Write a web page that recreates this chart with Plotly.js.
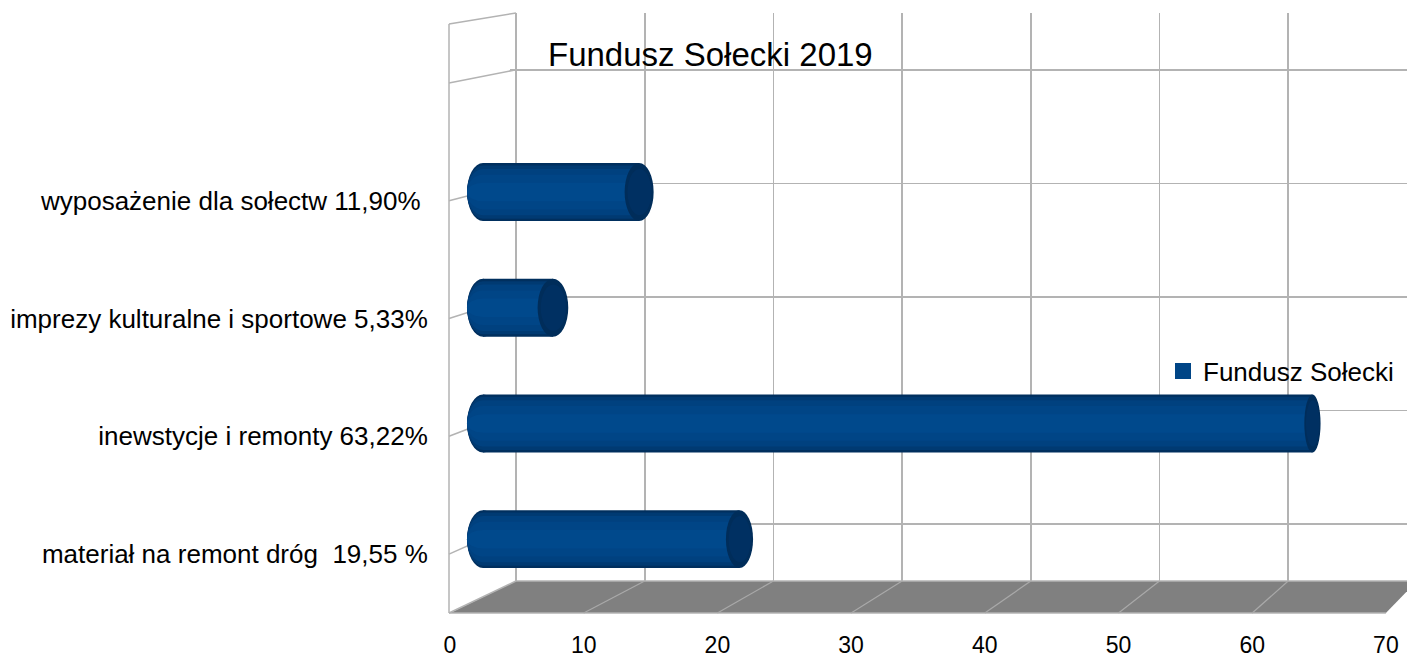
<!DOCTYPE html>
<html>
<head>
<meta charset="utf-8">
<script src="https://cdn.plot.ly/plotly-3.0.1.min.js"></script>
<style>html,body{margin:0;padding:0;background:#fff;}#chart{width:1407px;height:660px;}</style>
</head>
<body>
<div id="chart"></div>
<script>
// ---- data ----
const categories = [
  'materiał na remont dróg\u00a0 19,55 %',
  'inewstycje i remonty 63,22%',
  'imprezy kulturalne i sportowe 5,33%',
  'wyposażenie dla sołectw 11,90%\u00a0'
];
const values = [19.55, 63.22, 5.33, 11.90];
const seriesName = 'Fundusz Sołecki';
const chartTitle = 'Fundusz Sołecki 2019';
const xTickStep = 10;
const xMax = 70;

// ---- geometry (pseudo-3D frame) ----
const W = 1407, H = 660;
const fx = p => p / W;
const fy = p => 1 - p / H;
// front plane
const xF0 = 450, sF = 13.37, yFtop = 24, yFbot = 613;
// back plane
const xB0 = 516, sB = 12.87, yBtop = 13, yBbot = 581;
// mid-depth (bars)
const xM0 = 483, sM = 13.12, yMtop = 18.5, yMbot = 597;
const nSlots = 5;

const grid = '#b3b3b3';
const font = 'Liberation Sans, Arial, sans-serif';

// bar shading layers (outer -> inner)
const layerWidths = [0.50, 0.46, 0.40, 0.30, 0.16];
const layerColors = ['#002f5e', '#003a72', '#00417f', '#004586', '#00498c'];

const traces = [];
// invisible trace so the back-wall grid subplot is drawn
traces.push({type: 'scatter', mode: 'markers', x: [null], y: [null],
  xaxis: 'x', yaxis: 'y', showlegend: false, hoverinfo: 'skip'});
layerWidths.forEach((w, j) => {
  traces.push({
    type: 'bar', orientation: 'h',
    x: values, y: categories,
    xaxis: 'x2', yaxis: 'y2',
    width: w,
    marker: {color: layerColors[j], line: {width: 0}},
    showlegend: false, hoverinfo: 'skip'
  });
});
// legend entry
traces.push({
  type: 'scatter', mode: 'markers', x: [null], y: [null],
  xaxis: 'x3', yaxis: 'y3', name: seriesName,
  marker: {symbol: 'square', size: 16, color: '#004586'},
  showlegend: true, hoverinfo: 'skip'
});

const shapes = [];
// floor
const floorBackRight = xB0 + sB * xMax;
const floorFrontRight = xF0 + sF * xMax;
shapes.push({
  type: 'path', xref: 'paper', yref: 'paper', layer: 'below',
  path: `M ${fx(xF0)} ${fy(yFbot)} L ${fx(floorFrontRight)} ${fy(yFbot)} L ${fx(floorBackRight)} ${fy(yBbot)} L ${fx(xB0)} ${fy(yBbot)} Z`,
  fillcolor: '#808080', line: {width: 0}
});
function pline(x0, y0, x1, y1, w, c) {
  shapes.push({type: 'line', xref: 'paper', yref: 'paper', layer: 'below',
    x0: fx(x0), y0: fy(y0), x1: fx(x1), y1: fy(y1), line: {color: c || grid, width: w || 1.5}});
}
// floor edges and diagonals
pline(xF0 - 1, yFbot, floorFrontRight, yFbot, 1.5);
pline(xB0, yBbot, W, yBbot, 1.5);
for (let v = xTickStep; v < xMax; v += xTickStep) {
  pline(xF0 + sF * v, yFbot, xB0 + sB * v, yBbot, 1.2, '#a9a9a9');
}
// left wall
pline(xF0 - 1, yFtop, xF0 - 1, yFbot, 1.5);
pline(xF0 - 1, yFtop, xB0, yBtop, 1.5);
pline(xF0 - 1, yFbot, xB0, yBbot, 1.5);
const slotF = (yFbot - yFtop) / nSlots, slotB = (yBbot - yBtop) / nSlots;
for (let i = 0; i < nSlots; i++) {
  pline(xF0 - 1, yFtop + (i + 0.5) * slotF, xB0, yBtop + (i + 0.5) * slotB, 1.5);
}
// bar end caps
const hwLeft = 16 / sM;
values.forEach((v, i) => {
  layerWidths.forEach((w, j) => {
    shapes.push({type: 'circle', xref: 'x2', yref: 'y2', layer: 'below',
      x0: -hwLeft, x1: hwLeft, y0: i - w / 2, y1: i + w / 2,
      fillcolor: layerColors[j], line: {width: 0}});
  });
  const hw = Math.max(6, 16 - 0.0095 * sM * v) / sM;
  shapes.push({type: 'circle', xref: 'x2', yref: 'y2', layer: 'above',
    x0: v - hw, x1: v + hw, y0: i - 0.25, y1: i + 0.25,
    fillcolor: '#002d5a', line: {width: 0}});
  shapes.push({type: 'circle', xref: 'x2', yref: 'y2', layer: 'above',
    x0: v - hw * 0.8, x1: v + hw * 0.85, y0: i - 0.2, y1: i + 0.2,
    fillcolor: '#003062', line: {width: 0}});
});

const backPad = 6;
const layout = {
  width: W, height: H, autosize: false,
  margin: {l: 0, r: 0, t: 0, b: 0, pad: 0},
  paper_bgcolor: '#ffffff', plot_bgcolor: 'rgba(0,0,0,0)',
  font: {family: font, color: '#000'},
  title: {text: chartTitle, font: {family: font, size: 33, color: '#000'},
    xref: 'paper', x: fx(548), xanchor: 'left',
    yref: 'container', y: fy(54), yanchor: 'middle'},
  barmode: 'overlay',
  showlegend: true,
  legend: {x: fx(1163), y: fy(371), xanchor: 'left', yanchor: 'middle',
    font: {family: font, size: 26, color: '#000'}, bgcolor: 'rgba(0,0,0,0)'},
  // back wall grid
  xaxis: {domain: [fx(xB0 - backPad), 1], range: [-backPad / sB, (W - xB0) / sB],
    tick0: 0, dtick: xTickStep, showgrid: true, gridcolor: grid, gridwidth: 1.6,
    zeroline: false, showticklabels: false, ticks: '', showline: false, anchor: 'y', fixedrange: true},
  yaxis: {domain: [fy(yBbot), fy(yBtop)], range: [-0.5, nSlots - 0.5],
    tick0: 0, dtick: 1, showgrid: true, gridcolor: grid, gridwidth: 1.6,
    zeroline: false, showticklabels: false, ticks: '', showline: false, anchor: 'x', fixedrange: true},
  // bars (mid depth)
  xaxis2: {domain: [fx(xM0 - 5 * sM), fx(xM0 + xMax * sM)], range: [-5, xMax],
    visible: false, anchor: 'y2', fixedrange: true},
  yaxis2: {domain: [fy(yMbot), fy(yMtop)], range: [-0.5, nSlots - 0.5],
    type: 'category', categoryorder: 'array', categoryarray: categories,
    visible: false, anchor: 'x2', fixedrange: true},
  // front axis labels
  xaxis3: {domain: [fx(xF0), fx(xF0 + xMax * sF)], range: [0, xMax],
    tick0: 0, dtick: xTickStep, showgrid: false, zeroline: false, showline: false,
    ticks: 'outside', ticklen: 11, tickcolor: 'rgba(0,0,0,0)',
    tickfont: {family: font, size: 23, color: '#000'}, anchor: 'y3', fixedrange: true},
  yaxis3: {domain: [fy(yFbot), fy(yFtop)], range: [-0.5, nSlots - 0.5],
    tickvals: categories.map((c, i) => i), ticktext: categories,
    showgrid: false, zeroline: false, showline: false,
    ticks: 'outside', ticklen: 16, tickcolor: 'rgba(0,0,0,0)',
    tickfont: {family: font, size: 26, color: '#000'}, anchor: 'x3', fixedrange: true},
  shapes: shapes
};

Plotly.newPlot('chart', traces, layout, {staticPlot: true, displayModeBar: false});
</script>
</body>
</html>
